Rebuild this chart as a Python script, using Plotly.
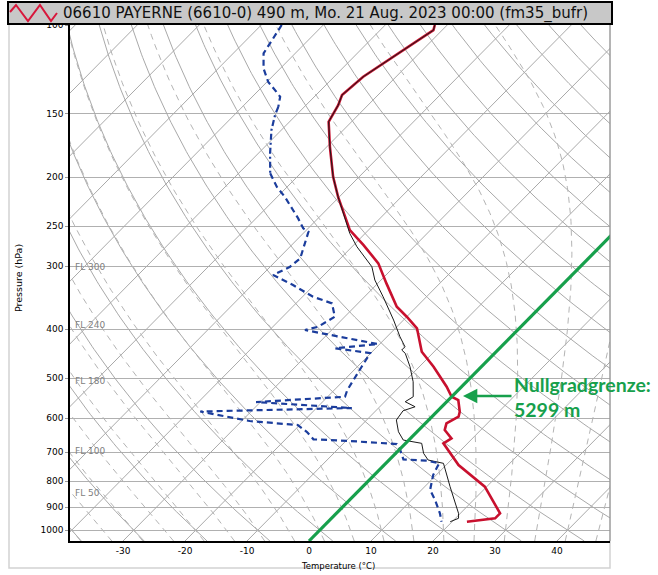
import numpy as np
import plotly.graph_objects as go

# ---------------- data ----------------
temp_p = [100.0, 102.4, 126.6, 137.6, 144.1, 151.9, 155.4, 174.2, 199.7, 218.8, 239.6, 254.6, 272.6,
          296.3, 324.6, 361.1, 377.9, 398.4, 443.2, 474.6, 519.9, 544.1, 552.4, 582.6, 596.0, 614.2,
          633.3, 657.6, 672.8, 742.7, 819.9, 925.5, 946.8, 961.7]
temp_t = [-62.0, -61.4, -65.3, -65.8, -64.8, -64.0, -63.7, -59.5, -54.2, -50.2, -45.9, -43.0, -38.4,
          -33.1, -28.6, -23.2, -20.0, -16.5, -12.0, -7.7, -2.4, 0.0, 1.6, 3.7, 4.3, 3.4,
          4.2, 6.6, 6.1, 12.0, 19.7, 26.4, 26.4, 22.4]

dew_p = [100.0, 107.2, 113.8, 121.9, 129.6, 135.6, 138.7, 145.2, 150.8, 161.4, 179.5, 196.6, 209.0,
         218.8, 232.4, 241.4, 252.6, 256.6, 289.6, 300.9, 312.5, 327.1, 345.0, 355.5, 377.9, 395.5,
         401.5, 428.0, 436.4, 445.9, 474.6, 527.8, 544.1, 557.4, 572.9, 582.0, 607.8, 619.0, 639.1,
         660.7, 665.8, 675.0, 693.6, 723.7, 728.3, 737.0, 777.3, 832.3, 871.1, 925.5, 961.7]
dew_t = [-86.7, -85.9, -85.1, -82.7, -79.8, -76.9, -75.5, -74.2, -73.4, -71.6, -68.1, -64.9, -61.7,
         -58.8, -55.3, -53.2, -50.8, -49.4, -46.5, -46.8, -48.2, -43.4, -38.3, -34.2, -31.6, -32.7,
         -34.3, -20.3, -26.5, -20.1, -19.3, -17.9, -17.2, -30.7, -14.3, -38.2, -28.7, -20.3, -17.7,
         -15.5, -9.3, -1.3, 0.2, 2.2, 6.2, 8.6, 9.5, 11.4, 13.8, 16.7, 18.3]
dew_dashdot_range = (145.0, 197.0)   # hPa span drawn dash-dotted

wb_p = [100.0, 102.4, 126.6, 137.6, 144.1, 151.9, 155.4, 174.2, 199.7, 218.8, 239.6, 258.4, 274.7,
        300.9, 319.7, 345.0, 383.6, 414.0, 433.3, 439.8, 446.5, 474.6, 508.2, 544.1, 556.6, 569.5,
        580.0, 605.0, 638.2, 662.8, 672.8, 704.2, 726.0, 737.0, 777.3, 819.9, 925.5, 946.8, 961.7]
wb_t = [-62.0, -61.4, -65.3, -65.8, -64.8, -64.0, -63.7, -59.5, -54.2, -50.2, -46.0, -42.5, -39.2,
        -33.6, -31.0, -27.0, -21.6, -17.9, -15.5, -15.5, -14.4, -11.5, -8.6, -6.2, -6.7, -4.3,
        -5.6, -5.2, -3.0, -0.9, 2.6, 4.5, 6.3, 9.3, 11.7, 14.1, 19.7, 20.5, 19.7]

p_ticks = [100, 150, 200, 250, 300, 400, 500, 600, 700, 800, 900, 1000]
t_ticks = [-30, -20, -10, 0, 10, 20, 30, 40]
fl_labels = ["FL 300", "FL 240", "FL 180", "FL 100", "FL 50"]
fl_pressures = [300.9, 393.0, 506.0, 696.8, 843.1]
freezing_isotherm = 0.0
title_text = "06610 PAYERNE (6610-0) 490 m, Mo. 21 Aug. 2023 00:00 (fm35_bufr)"
note_text = "Nullgradgrenze:<br>5299 m"

# ---------------- skew-T geometry ----------------
SKEW = 35.0
P_BOT, P_TOP = 1050.0, 100.0
X_MIN, X_MAX = -38.55, 48.55


def skx(t, p):
    return np.asarray(t, float) + SKEW * np.log(P_BOT / np.asarray(p, float))


# figure pixel frame
W, H = 658, 575
ML, MR, MT, MB = 70, 48, 25, 34
PW, PH = W - ML - MR, H - MT - MB


def pxx(x):
    return (x - ML) / PW


def pxy(y):
    return (H - MB - y) / PH


fig = go.Figure()
grid_col = "#a9a9a9"
pp = np.geomspace(P_BOT, P_TOP, 160)


def multi(lines):
    xs, ys = [], []
    for x, y in lines:
        xs += list(x) + [None]
        ys += list(y) + [None]
    return xs, ys


# isotherms
iso = [(skx([T, T], [P_BOT, P_TOP]), [P_BOT, P_TOP]) for T in range(-130, 60, 10)]
xs, ys = multi(iso)
fig.add_trace(go.Scatter(x=xs, y=ys, mode="lines", line=dict(color=grid_col, width=1),
                         hoverinfo="skip", showlegend=False))

# dry adiabats
dry = []
for th in range(-40, 260, 10):
    T = (th + 273.15) * (pp / 1000.0) ** 0.2857 - 273.15
    dry.append((skx(T, pp), pp))
xs, ys = multi(dry)
fig.add_trace(go.Scatter(x=xs, y=ys, mode="lines", line=dict(color=grid_col, width=1),
                         hoverinfo="skip", showlegend=False))

# moist (pseudo) adiabats
Rd, Cpd, Lv, eps = 287.04, 1005.7, 2.501e6, 0.622


def dTdp(T, P):
    Tc = T - 273.15
    e = 6.112 * np.exp(17.67 * Tc / (Tc + 243.5))
    rs = eps * e / (P - e)
    num = (Rd * T + Lv * rs) / P
    den = Cpd + (Lv * Lv * rs * eps) / (Rd * T * T)
    return num / den


def integrate(T0, p_path):
    out = [T0.copy()]
    T = T0.copy()
    for i in range(len(p_path) - 1):
        p0, p1 = p_path[i], p_path[i + 1]
        h = p1 - p0
        k1 = dTdp(T, p0)
        k2 = dTdp(T + 0.5 * h * k1, p0 + 0.5 * h)
        k3 = dTdp(T + 0.5 * h * k2, p0 + 0.5 * h)
        k4 = dTdp(T + h * k3, p1)
        T = T + h / 6 * (k1 + 2 * k2 + 2 * k3 + k4)
        out.append(T.copy())
    return np.array(out)


thw = np.arange(-40, 50, 5, dtype=float) + 273.15
p_up = np.arange(1000.0, 99.0, -5.0)
p_dn = np.arange(1000.0, 1051.0, 5.0)
Tup = integrate(thw, p_up)
Tdn = integrate(thw, p_dn)
moist = []
for j in range(len(thw)):
    P = np.concatenate([p_dn[::-1], p_up[1:]])
    T = np.concatenate([Tdn[::-1, j], Tup[1:, j]]) - 273.15
    moist.append((skx(T, P), P))
xs, ys = multi(moist)
fig.add_trace(go.Scatter(x=xs, y=ys, mode="lines",
                         line=dict(color="#b4b4b4", width=1, dash="6px,5px"),
                         hoverinfo="skip", showlegend=False))

# ---------------- profiles ----------------
fig.add_trace(go.Scatter(x=skx(temp_t, temp_p), y=temp_p, mode="lines",
                         line=dict(color="#c8102e", width=2.6), showlegend=False))
fig.add_trace(go.Scatter(x=skx(wb_t, wb_p), y=wb_p, mode="lines",
                         line=dict(color="#1a1a1a", width=1), showlegend=False))

dp = np.array(dew_p)
dt = np.array(dew_t)
lo, hi = dew_dashdot_range
up_m = dp <= lo + 0.5
mid_m = (dp >= lo - 0.5) & (dp <= hi + 0.5)
low_m = dp >= hi - 0.5
blue = "#1b3d9c"
fig.add_trace(go.Scatter(x=skx(dt[up_m], dp[up_m]), y=dp[up_m], mode="lines",
                         line=dict(color=blue, width=2.2, dash="6px,4px"), showlegend=False))
fig.add_trace(go.Scatter(x=skx(dt[mid_m], dp[mid_m]), y=dp[mid_m], mode="lines",
                         line=dict(color=blue, width=2.2, dash="6px,3px,2px,3px"), showlegend=False))
fig.add_trace(go.Scatter(x=skx(dt[low_m], dp[low_m]), y=dp[low_m], mode="lines",
                         line=dict(color=blue, width=2.2, dash="6px,4px"), showlegend=False))

# freezing-level isotherm highlight
green = "#17a04c"
fig.add_trace(go.Scatter(x=skx([freezing_isotherm] * 2, [P_BOT, P_TOP]), y=[P_BOT, P_TOP],
                         mode="lines", line=dict(color=green, width=3.2), showlegend=False))

# ---------------- decorations ----------------
shapes = []
# outer light frame
shapes.append(dict(type="rect", xref="paper", yref="paper", x0=pxx(9), x1=1.0, y0=pxy(568), y1=pxy(24),
                   line=dict(color="#d2d2d2", width=1.5), layer="below"))
# right border of the plot area
shapes.append(dict(type="line", xref="paper", yref="paper", x0=1, x1=1, y0=0, y1=1,
                   line=dict(color="#8c8c8c", width=1)))
# title bar
shapes.append(dict(type="rect", xref="paper", yref="paper", x0=pxx(8), x1=pxx(612), y0=pxy(24), y1=pxy(2),
                   fillcolor="#c8c8c8", line=dict(color="black", width=2)))
zig = [(10, 12), (16, 5), (28, 21), (40, 5), (51, 21), (57, 13)]
path = "M " + " L ".join(f"{pxx(a):.4f},{pxy(b):.4f}" for a, b in zig)
shapes.append(dict(type="path", xref="paper", yref="paper", path=path,
                   line=dict(color="#d8173c", width=2)))

annotations = []
annotations.append(dict(xref="paper", yref="paper", x=pxx(61), y=pxy(14), xanchor="left", yanchor="middle",
                        text=title_text, showarrow=False,
                        font=dict(family="DejaVu Sans", size=15, color="#111")))
for lab, p in zip(fl_labels, fl_pressures):
    annotations.append(dict(xref="paper", yref="y", x=pxx(73), y=np.log10(p), xanchor="left",
                            yanchor="middle", text=lab, showarrow=False,
                            font=dict(family="DejaVu Sans", size=9, color="#808080")))
annotations.append(dict(xref="paper", yref="paper", x=pxx(18), y=pxy(278), text="Pressure (hPa)",
                        textangle=-90, showarrow=False, xanchor="center", yanchor="middle",
                        font=dict(family="DejaVu Sans", size=9.5, color="black")))
annotations.append(dict(xref="paper", yref="paper", x=pxx(338), y=pxy(566), text="Temperature (°C)",
                        showarrow=False, xanchor="center", yanchor="middle",
                        font=dict(family="DejaVu Sans", size=8.5, color="black")))
# freezing level note
annotations.append(dict(xref="paper", yref="paper", x=pxx(463), y=pxy(396), ax=50, ay=0, text="",
                        showarrow=True, arrowhead=2, arrowsize=1.1, arrowwidth=2.6, arrowcolor=green))
annotations.append(dict(xref="paper", yref="paper", x=pxx(512), y=pxy(397), xanchor="left",
                        yanchor="middle", align="left", text=note_text, showarrow=False,
                        font=dict(family="Lato", size=19.5, color=green, weight="bold")))

fig.update_layout(
    width=W, height=H,
    margin=dict(l=ML, r=MR, t=MT, b=MB, pad=0),
    paper_bgcolor="white", plot_bgcolor="white",
    showlegend=False,
    shapes=shapes, annotations=annotations,
    font=dict(family="DejaVu Sans", size=9, color="black"),
    xaxis=dict(range=[X_MIN, X_MAX], showgrid=False, zeroline=False,
               tickvals=t_ticks, ticktext=[str(t) for t in t_ticks],
               showline=True, linecolor="black", linewidth=1.5, ticks="",
               tickfont=dict(size=9, color="black")),
    yaxis=dict(type="log", range=[np.log10(P_BOT), np.log10(P_TOP)],
               tickvals=p_ticks, ticktext=[str(p) for p in p_ticks],
               showgrid=True, gridcolor="#b0b0b0", gridwidth=1, zeroline=False,
               showline=True, linecolor="black", linewidth=1.5,
               ticks="outside", ticklen=3, tickcolor="#999",
               tickfont=dict(size=9, color="black")),
)

fig.write_html("out.html")
